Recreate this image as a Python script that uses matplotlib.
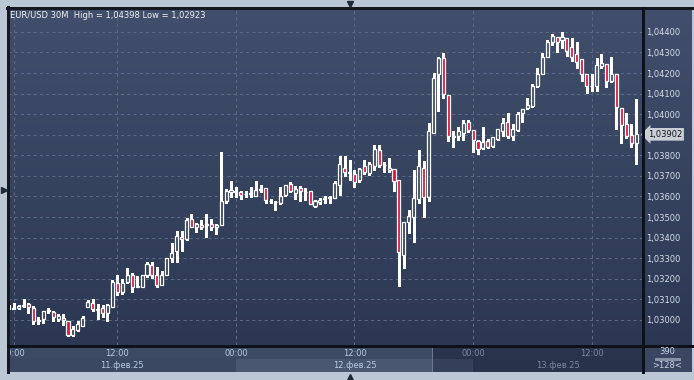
import matplotlib
matplotlib.use("Agg")
import matplotlib.pyplot as plt
import numpy as np
from matplotlib.colors import LinearSegmentedColormap
from matplotlib.lines import Line2D
from matplotlib.patches import Rectangle
from matplotlib.transforms import blended_transform_factory

# ---------------- data (EUR/USD, 30M candles) ----------------
opens = [1.03063, 1.03053, 1.03058, 1.03068, 1.03076, 1.03057, 1.02995, 1.03006, 1.03044, 1.03037,
         1.03006, 1.03010, 1.02997, 1.02926, 1.02953, 1.02972, 1.03065, 1.03083, 1.03053, 1.03057,
         1.03035, 1.03065, 1.03178, 1.03136, 1.03183, 1.03217, 1.03162, 1.03162, 1.03220, 1.03266,
         1.03217, 1.03171, 1.03220, 1.03299, 1.03334, 1.03405, 1.03394, 1.03489, 1.03450, 1.03463,
         1.03463, 1.03465, 1.03450, 1.03462, 1.03580, 1.03621, 1.03624, 1.03621, 1.03612, 1.03614,
         1.03604, 1.03633, 1.03640, 1.03578, 1.03575, 1.03567, 1.03606, 1.03660, 1.03619, 1.03640,
         1.03624, 1.03625, 1.03556, 1.03572, 1.03590, 1.03593, 1.03591, 1.03655, 1.03737, 1.03716,
         1.03710, 1.03680, 1.03748, 1.03716, 1.03750, 1.03827, 1.03753, 1.03736, 1.03732, 1.03680,
         1.03316, 1.03475, 1.03499, 1.03588, 1.03737, 1.03599, 1.03907, 1.04194, 1.04272, 1.04094,
         1.03891, 1.03894, 1.03907, 1.03961, 1.03922, 1.03870, 1.03837, 1.03870, 1.03847, 1.03878,
         1.03919, 1.03961, 1.03894, 1.03923, 1.04005, 1.04029, 1.04042, 1.04139, 1.04194, 1.04280,
         1.04350, 1.04374, 1.04359, 1.04369, 1.04325, 1.04291, 1.04268, 1.04194, 1.04139, 1.04139,
         1.04233, 1.04243, 1.04162, 1.04194, 1.04029, 1.03953, 1.03899, 1.03859]
highs = [1.03073, 1.03083, 1.03073, 1.03100, 1.03084, 1.03068, 1.03013, 1.03042, 1.03057, 1.03044,
         1.03029, 1.03029, 1.02997, 1.02968, 1.02997, 1.03019, 1.03097, 1.03101, 1.03078, 1.03074,
         1.03078, 1.03194, 1.03217, 1.03198, 1.03253, 1.03230, 1.03214, 1.03220, 1.03282, 1.03282,
         1.03256, 1.03237, 1.03300, 1.03373, 1.03431, 1.03430, 1.03494, 1.03514, 1.03473, 1.03486,
         1.03514, 1.03489, 1.03465, 1.03816, 1.03635, 1.03676, 1.03645, 1.03627, 1.03626, 1.03648,
         1.03676, 1.03655, 1.03640, 1.03587, 1.03580, 1.03645, 1.03656, 1.03672, 1.03651, 1.03651,
         1.03640, 1.03625, 1.03583, 1.03593, 1.03604, 1.03603, 1.03677, 1.03799, 1.03799, 1.03778,
         1.03729, 1.03740, 1.03778, 1.03768, 1.03851, 1.03851, 1.03769, 1.03787, 1.03732, 1.03680,
         1.03478, 1.03535, 1.03729, 1.03826, 1.03773, 1.03956, 1.04199, 1.04280, 1.04296, 1.04094,
         1.03919, 1.03939, 1.03972, 1.03972, 1.03922, 1.03875, 1.03939, 1.03880, 1.03891, 1.03927,
         1.03980, 1.04006, 1.03954, 1.04012, 1.04024, 1.04077, 1.04146, 1.04226, 1.04296, 1.04361,
         1.04389, 1.04374, 1.04398, 1.04369, 1.04369, 1.04350, 1.04268, 1.04194, 1.04194, 1.04272,
         1.04291, 1.04243, 1.04277, 1.04194, 1.04029, 1.04005, 1.03951, 1.04074]
lows = [1.03053, 1.03051, 1.03053, 1.03063, 1.03035, 1.02981, 1.02981, 1.02987, 1.03033, 1.02997,
        1.02997, 1.02977, 1.02923, 1.02924, 1.02948, 1.02968, 1.03062, 1.03045, 1.03006, 1.03016,
        1.02994, 1.03063, 1.03122, 1.03126, 1.03178, 1.03138, 1.03159, 1.03159, 1.03208, 1.03202,
        1.03162, 1.03169, 1.03220, 1.03279, 1.03282, 1.03337, 1.03389, 1.03450, 1.03429, 1.03441,
        1.03402, 1.03437, 1.03416, 1.03462, 1.03570, 1.03599, 1.03599, 1.03587, 1.03599, 1.03599,
        1.03604, 1.03624, 1.03570, 1.03570, 1.03535, 1.03564, 1.03603, 1.03624, 1.03588, 1.03580,
        1.03583, 1.03561, 1.03548, 1.03564, 1.03570, 1.03567, 1.03591, 1.03608, 1.03698, 1.03681,
        1.03648, 1.03672, 1.03710, 1.03705, 1.03729, 1.03743, 1.03720, 1.03720, 1.03627, 1.03167,
        1.03251, 1.03421, 1.03381, 1.03567, 1.03502, 1.03580, 1.03907, 1.04016, 1.04080, 1.03871,
        1.03842, 1.03875, 1.03875, 1.03915, 1.03818, 1.03807, 1.03830, 1.03837, 1.03842, 1.03875,
        1.03894, 1.03886, 1.03875, 1.03919, 1.03964, 1.04024, 1.04034, 1.04131, 1.04194, 1.04277,
        1.04337, 1.04304, 1.04323, 1.04283, 1.04259, 1.04226, 1.04162, 1.04105, 1.04114, 1.04114,
        1.04226, 1.04134, 1.04158, 1.03927, 1.03859, 1.03886, 1.03842, 1.03757]
closes = [1.03068, 1.03060, 1.03068, 1.03071, 1.03062, 1.02997, 1.03001, 1.03042, 1.03049, 1.03016,
          1.03019, 1.03000, 1.02926, 1.02955, 1.02979, 1.03010, 1.03087, 1.03052, 1.03049, 1.03033,
          1.03071, 1.03185, 1.03136, 1.03178, 1.03220, 1.03162, 1.03163, 1.03217, 1.03271, 1.03219,
          1.03169, 1.03220, 1.03300, 1.03325, 1.03407, 1.03392, 1.03486, 1.03450, 1.03465, 1.03450,
          1.03465, 1.03450, 1.03460, 1.03580, 1.03625, 1.03631, 1.03626, 1.03608, 1.03614, 1.03616,
          1.03630, 1.03635, 1.03582, 1.03577, 1.03572, 1.03601, 1.03656, 1.03627, 1.03635, 1.03625,
          1.03623, 1.03564, 1.03577, 1.03585, 1.03592, 1.03595, 1.03667, 1.03757, 1.03718, 1.03717,
          1.03672, 1.03732, 1.03719, 1.03758, 1.03833, 1.03754, 1.03751, 1.03727, 1.03677, 1.03332,
          1.03478, 1.03505, 1.03591, 1.03747, 1.03599, 1.03919, 1.04175, 1.04272, 1.04097, 1.03894,
          1.03893, 1.03919, 1.03956, 1.03922, 1.03873, 1.03831, 1.03864, 1.03841, 1.03888, 1.03927,
          1.03956, 1.03893, 1.03930, 1.04000, 1.04024, 1.04045, 1.04137, 1.04194, 1.04277, 1.04350,
          1.04380, 1.04350, 1.04374, 1.04307, 1.04277, 1.04255, 1.04194, 1.04137, 1.04137, 1.04238,
          1.04248, 1.04162, 1.04194, 1.04035, 1.03948, 1.03894, 1.03859, 1.03902]

price_ticks = [1.030, 1.031, 1.032, 1.033, 1.034, 1.035, 1.036, 1.037,
               1.038, 1.039, 1.040, 1.041, 1.042, 1.043, 1.044]
time_tick_idx = [1, 22, 46, 70, 94, 118]
time_tick_labels = ["00:00", "12:00", "00:00", "12:00", "00:00", "12:00"]
day_start_idx = [46, 94]
day_labels = ["11.фев.25", "12.фев.25", "13.фев.25"]
title_text = "EUR/USD 30M  High = 1,04398 Low = 1,02923"
scale_text = "390"
count_text = ">128<"

# ---------------- layout helpers (pixels, top-left origin) ----------------
W, H = 694, 380
def box(x0, y0, x1, y1):
    return [x0 / W, 1 - y1 / H, (x1 - x0) / W, (y1 - y0) / H]

def fline(fig, x0, y0, x1, y1, color, lw=0.75):
    fig.add_artist(Line2D([x0 / W, x1 / W], [1 - y0 / H, 1 - y1 / H],
                          transform=fig.transFigure, color=color, lw=lw,
                          antialiased=False, zorder=10))

def frect(fig, x0, y0, x1, y1, color, z=-5):
    fig.add_artist(Rectangle((x0 / W, 1 - y1 / H), (x1 - x0) / W, (y1 - y0) / H,
                             transform=fig.transFigure, fc=color, ec="none", lw=0,
                             zorder=z))

fig = plt.figure(figsize=(W / 100, H / 100), dpi=100)
fig.patch.set_facecolor("#bcc7d6")

# inner dark panel
frect(fig, 7, 7, 692, 372, "#34405a", z=-5)

# gradient background of plot + price scale
ax_bg = fig.add_axes(box(8, 8, 692, 345), zorder=-2)
cmap = LinearSegmentedColormap.from_list("bg", ["#414f6c", "#2c3853"])
ax_bg.imshow(np.linspace(0, 1, 256).reshape(-1, 1), cmap=cmap, aspect="auto",
             extent=[0, 1, 0, 1], origin="upper")
ax_bg.set_axis_off()

# main axes
ax = fig.add_axes(box(8, 8, 642, 345), zorder=1)
ax.patch.set_visible(False)
for s in ax.spines.values():
    s.set_visible(False)

n = len(opens)
xs = np.arange(n)
o = np.array(opens); c = np.array(closes); hi = np.array(highs); lo = np.array(lows)
top = np.maximum(o, c); bot = np.minimum(o, c)
up = c >= o

ax.vlines(xs, top, hi, color="white", lw=0.75, zorder=3, antialiased=False)
ax.vlines(xs, lo, bot, color="white", lw=0.75, zorder=3, antialiased=False)
ax.bar(xs[up], (c - o)[up], bottom=o[up], width=0.62, facecolor="none",
       edgecolor="white", linewidth=0.9, zorder=4)
ax.bar(xs[~up], (o - c)[~up], bottom=c[~up], width=0.62, facecolor="#e0123a",
       edgecolor="white", linewidth=0.9, zorder=4)

ax.set_xlim(-0.14, n + 0.2)
ax.set_ylim(1.02878, 1.04516)

ax.set_xticks(time_tick_idx)
ax.tick_params(axis="x", bottom=False, labelbottom=False)
ax.yaxis.tick_right()
ax.set_yticks(price_ticks)
ax.set_yticklabels([f"{v:.5f}".replace(".", ",") for v in price_ticks])
ax.tick_params(axis="y", right=False, length=0, pad=3.2, labelsize=6,
               labelcolor="#d6ddeb")
ax.grid(True, color="#5d6984", lw=0.75, linestyle=(0, (3, 3)), zorder=1)

# title
ax.text(0.003, 1 - 7.0 / 337, title_text, transform=ax.transAxes, ha="left",
        va="center", fontsize=6, color="#f2f2f2")

# current price marker
trans_py = blended_transform_factory(ax.transAxes, ax.transData)
ax.annotate(f"{closes[-1]:.5f}".replace(".", ","), xy=(1, closes[-1]), xycoords=trans_py,
            xytext=(4.2, 0), textcoords="offset points", ha="left", va="center",
            fontsize=6, color="#111111", annotation_clip=False,
            bbox=dict(boxstyle="larrow,pad=0.22", fc="#c9ced7", ec="none"))

# bottom time axis panel
ax_bot = fig.add_axes(box(8, 345, 642, 372), sharex=ax, zorder=1)
ax_bot.set_ylim(0, 1)
ax_bot.set_axis_off()
split = 85.6
x0, x1 = ax.get_xlim()
ax_bot.axvspan(x0, split, 0.5, 1, color="#3d4a64", lw=0)
ax_bot.axvspan(split, x1, 0.5, 1, color="#29344c", lw=0)
ax_bot.axvspan(x0, day_start_idx[0], 0, 0.5, color="#3b4862", lw=0)
ax_bot.axvspan(day_start_idx[0], split, 0, 0.5, color="#4a5771", lw=0)
ax_bot.axvspan(split, day_start_idx[1], 0, 0.5, color="#34405a", lw=0)
ax_bot.axvspan(day_start_idx[1], x1, 0, 0.5, color="#28334b", lw=0)
ax_bot.axvline(split, 0.05, 0.95, color="#6b778c", lw=0.75)

for xi, lab in zip(time_tick_idx, time_tick_labels):
    col = "#b9cbe6" if xi < split else "#7d889c"
    ax_bot.text(xi, 0.70, lab, ha="center", va="center", fontsize=6, color=col,
                clip_on=True)
bounds = [x0] + day_start_idx + [x1]
for k, lab in enumerate(day_labels):
    mid = (bounds[k] + bounds[k + 1]) / 2
    col = "#b9cbe6" if mid < split else "#7d889c"
    ax_bot.text(mid, 0.25, lab, ha="center", va="center", fontsize=6, color=col,
                clip_on=True)

# bottom-right corner panel
frect(fig, 643, 346, 692, 372, "#3b4762", z=0.5)
fig.text(667 / W, 1 - 352 / H, scale_text, ha="center", va="center", fontsize=6,
         color="#c8d4e8", zorder=11)
fline(fig, 656, 358.5, 679, 358.5, "#8592a8")
fig.text(667 / W, 1 - 365 / H, count_text, ha="center", va="center", fontsize=6,
         color="#c8d4e8", zorder=11)

# frame lines
fline(fig, 7, 7.5, 692, 7.5, "#15191f")
fline(fig, 7.5, 7, 7.5, 372, "#15191f")
fline(fig, 642.5, 8, 642.5, 372, "#0e1118")
fline(fig, 8, 345.5, 692, 345.5, "#0e1118")

# small navigation triangles
for (px, py, mk) in [(350, 3.5, "v"), (350, 376.5, "^"), (3.5, 190, ">")]:
    fig.add_artist(Line2D([px / W], [1 - py / H], transform=fig.transFigure,
                          marker=mk, markersize=5, color="#1e2838", lw=0, zorder=10))

fig.savefig("out.png", dpi=100, facecolor=fig.get_facecolor())
